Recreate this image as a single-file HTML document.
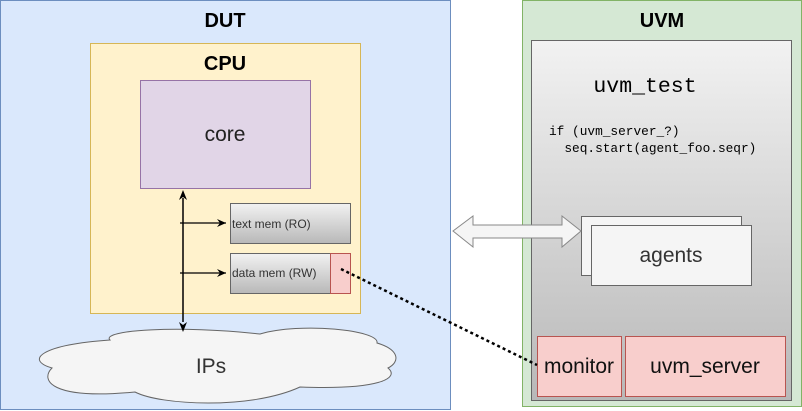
<!DOCTYPE html>
<html><head><meta charset="utf-8"><style>
html,body{margin:0;padding:0;background:#fff;}
svg{display:block;}
text{font-family:"Liberation Sans",sans-serif;}
.mono{font-family:"Liberation Mono",monospace;}
</style></head><body>
<svg width="802" height="411" viewBox="0 0 802 411" xmlns="http://www.w3.org/2000/svg">
<defs>
<linearGradient id="g1" x1="0" y1="0" x2="0" y2="1"><stop offset="0" stop-color="#f2f2f2"/><stop offset="1" stop-color="#b8b8b8"/></linearGradient>
<marker id="ah" markerWidth="10" markerHeight="10" refX="9" refY="5" orient="auto" markerUnits="userSpaceOnUse"><path d="M0,1 L9,5 L0,9 L3,5 Z" fill="#000"/></marker>
</defs>
<rect x="0.5" y="0.5" width="450" height="409" fill="#dae8fc" stroke="#6c8ebf"/>
<text x="225" y="27" font-size="20" font-weight="bold" text-anchor="middle">DUT</text>
<rect x="90.5" y="43.5" width="270" height="270" fill="#fff2cc" stroke="#d6b656"/>
<text x="225" y="70" font-size="20" font-weight="bold" text-anchor="middle">CPU</text>
<rect x="140.5" y="80.5" width="170" height="108" fill="#e1d5e7" stroke="#9673a6"/>
<text x="225" y="141" font-size="21" text-anchor="middle" fill="#222">core</text>
<rect x="230.5" y="203.5" width="120" height="40" fill="url(#g1)" stroke="#666"/>
<text x="232" y="228" font-size="12" fill="#333">text mem (RO)</text>
<rect x="230.5" y="253.5" width="120" height="40" fill="url(#g1)" stroke="#666"/>
<rect x="330.5" y="253.5" width="20" height="40" fill="#f8cecc" stroke="#b85450"/>
<text x="232" y="277" font-size="12" fill="#333">data mem (RW)</text>
<path d="M110,340 C100,330 180,325 260,334 C300,322 380,330 377,343 C400,350 400,362 388,368 C400,378 380,390 300,387 C250,410 160,405 135,392 C50,400 40,380 52,368 C25,360 40,345 110,340 Z" fill="#f5f5f5" stroke="#666"/>
<text x="211" y="373" font-size="21" text-anchor="middle" fill="#333">IPs</text>
<line x1="183" y1="198" x2="183" y2="322" stroke="#000" stroke-width="1.5"/>
<path d="M183,190 L179,200 L183,197 L187,200 Z" fill="#000"/>
<path d="M183,332 L179,322 L183,325 L187,322 Z" fill="#000"/>
<line x1="180" y1="223" x2="226" y2="223" stroke="#000" stroke-width="1.2" marker-end="url(#ah)"/>
<line x1="180" y1="273" x2="226" y2="273" stroke="#000" stroke-width="1.2" marker-end="url(#ah)"/>
<rect x="522.5" y="0.5" width="279" height="406" fill="#d5e8d4" stroke="#82b366"/>
<text x="662" y="27" font-size="20" font-weight="bold" text-anchor="middle">UVM</text>
<rect x="531.5" y="40.5" width="260" height="360" fill="url(#g1)" stroke="#666"/>
<text x="645" y="92" font-size="21.5" class="mono" text-anchor="middle" fill="#000">uvm_test</text>
<text x="549" y="135" font-size="12.8" class="mono" fill="#000">if (uvm_server_?)</text>
<text x="549" y="152" font-size="12.8" class="mono" fill="#000" xml:space="preserve">  seq.start(agent_foo.seqr)</text>
<rect x="581.5" y="216.5" width="160" height="59" fill="#f5f5f5" stroke="#666"/>
<rect x="591.5" y="225.5" width="160" height="60" fill="#f5f5f5" stroke="#666"/>
<text x="671" y="262" font-size="21" text-anchor="middle" fill="#333">agents</text>
<rect x="537.5" y="336.5" width="84" height="60" fill="#f8cecc" stroke="#b85450"/>
<text x="579" y="373" font-size="21" text-anchor="middle" fill="#111">monitor</text>
<rect x="625.5" y="336.5" width="160" height="60" fill="#f8cecc" stroke="#b85450"/>
<text x="705" y="373" font-size="21" text-anchor="middle" fill="#111">uvm_server</text>
<path d="M453,231 L473,216 L473,225 L562,225 L562,216 L581,231 L562,247 L562,238 L473,238 L473,247 Z" fill="#f5f5f5" stroke="#888" stroke-width="1"/>
<line x1="341" y1="269" x2="537" y2="365" stroke="#000" stroke-width="2.5" stroke-dasharray="3,3"/>
</svg>
</body></html>
